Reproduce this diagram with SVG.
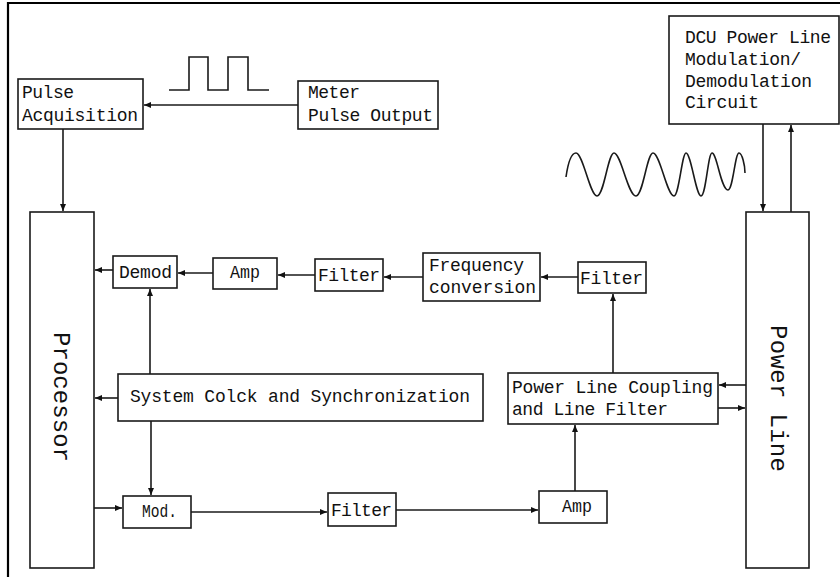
<svg xmlns="http://www.w3.org/2000/svg" width="840" height="577" viewBox="0 0 840 577">
<style>
.box{fill:#fff;stroke:#1a1a1a;stroke-width:1.6}
.ln{fill:none;stroke:#1a1a1a;stroke-width:1.6}
.t{font-family:"Liberation Mono","DejaVu Sans Mono",monospace;font-size:18px;fill:#111}
.big{font-family:"Liberation Mono","DejaVu Sans Mono",monospace;font-size:24px;fill:#111}
</style>
<defs>
<marker id="ah" markerUnits="userSpaceOnUse" markerWidth="8" markerHeight="8" refX="7" refY="4" orient="auto">
<path d="M0,1 L7,4 L0,7 Z" fill="#111"/>
</marker>
</defs>
<rect width="840" height="577" fill="#fff"/>
<g id="frame">
<path d="M8,577 V3 H840" fill="none" stroke="#000" stroke-width="2.2"/>
</g>
<g id="waves">
<path class="ln" d="M169,90 H189 V57 H208 V90 H228 V57 H248 V90 H269"/>
<path class="ln" d="M566,177 C568,163 571,153 576,153 C583,153 590,196 597,196 C604,196 608,153 614,153 C621,153 628,196 636,196 C643,196 647,153 653,153 C660,153 667,196 674,196 C679,196 682,153 686,153 C691,153 696,196 701,196 C706,196 708,153 712,153 C717,153 721,190 728,190 C733,190 735,153 739,153 C742,153 745,165 745,173"/>
</g>
<g id="connectors">
<path class="ln" d="M298,105 H144" marker-end="url(#ah)"/>
<path class="ln" d="M63,129 V211" marker-end="url(#ah)"/>
<path class="ln" d="M113,270 H95" marker-end="url(#ah)"/>
<path class="ln" d="M213,273 H178" marker-end="url(#ah)"/>
<path class="ln" d="M315,275 H278" marker-end="url(#ah)"/>
<path class="ln" d="M423,277 H384" marker-end="url(#ah)"/>
<path class="ln" d="M578,277 H541" marker-end="url(#ah)"/>
<path class="ln" d="M613,373 V294" marker-end="url(#ah)"/>
<path class="ln" d="M746,385 H719" marker-end="url(#ah)"/>
<path class="ln" d="M718,408 H745" marker-end="url(#ah)"/>
<path class="ln" d="M763,124 V211" marker-end="url(#ah)"/>
<path class="ln" d="M791,212 V125" marker-end="url(#ah)"/>
<path class="ln" d="M150,374 V289" marker-end="url(#ah)"/>
<path class="ln" d="M118,398 H95" marker-end="url(#ah)"/>
<path class="ln" d="M151,421 V495" marker-end="url(#ah)"/>
<path class="ln" d="M94,508 H122" marker-end="url(#ah)"/>
<path class="ln" d="M191,512 H327" marker-end="url(#ah)"/>
<path class="ln" d="M396,510 H538" marker-end="url(#ah)"/>
<path class="ln" d="M575,491 V425" marker-end="url(#ah)"/>
</g>
<g id="pulse-acq">
<rect class="box" x="18" y="79" width="125" height="50"/>
<text class="t" x="22" y="98" textLength="52" lengthAdjust="spacing">Pulse</text>
<text class="t" x="22" y="121" textLength="116" lengthAdjust="spacing">Acquisition</text>
</g>
<g id="meter">
<rect class="box" x="298" y="81" width="140" height="48"/>
<text class="t" x="308" y="98" textLength="52" lengthAdjust="spacing">Meter</text>
<text class="t" x="308" y="121" textLength="125" lengthAdjust="spacing">Pulse Output</text>
</g>
<g id="dcu">
<rect class="box" x="669" y="16" width="170" height="108"/>
<text class="t" x="685" y="43" textLength="146" lengthAdjust="spacing">DCU Power Line</text>
<text class="t" x="685" y="65" textLength="116" lengthAdjust="spacing">Modulation/</text>
<text class="t" x="685" y="87" textLength="127" lengthAdjust="spacing">Demodulation</text>
<text class="t" x="685" y="108" textLength="74" lengthAdjust="spacing">Circuit</text>
</g>
<g id="processor">
<rect class="box" x="30" y="212" width="64" height="356"/>
<text class="big" transform="translate(54,332) rotate(90)" textLength="130" lengthAdjust="spacing">Processor</text>
</g>
<g id="powerline">
<rect class="box" x="746" y="212" width="63" height="356"/>
<text class="big" transform="translate(771,325) rotate(90)" textLength="147" lengthAdjust="spacing">Power Line</text>
</g>
<g id="demod">
<rect class="box" x="113" y="256" width="64" height="32"/>
<text class="t" x="119" y="278" textLength="53" lengthAdjust="spacing">Demod</text>
</g>
<g id="amp-rx">
<rect class="box" x="213" y="258" width="64" height="31"/>
<text class="t" x="230" y="278" textLength="30" lengthAdjust="spacingAndGlyphs">Amp</text>
</g>
<g id="filter-rx1">
<rect class="box" x="315" y="259" width="68" height="32"/>
<text class="t" x="318" y="281" textLength="62" lengthAdjust="spacing">Filter</text>
</g>
<g id="freq">
<rect class="box" x="423" y="253" width="117" height="48"/>
<text class="t" x="429" y="271" textLength="95" lengthAdjust="spacing">Frequency</text>
<text class="t" x="429" y="293" textLength="107" lengthAdjust="spacing">conversion</text>
</g>
<g id="filter-rx2">
<rect class="box" x="578" y="262" width="68" height="31"/>
<text class="t" x="580" y="284" textLength="63" lengthAdjust="spacing">Filter</text>
</g>
<g id="coupling">
<rect class="box" x="508" y="373" width="210" height="51"/>
<text class="t" x="512" y="393" textLength="201" lengthAdjust="spacing">Power Line Coupling</text>
<text class="t" x="512" y="415" textLength="156" lengthAdjust="spacing">and Line Filter</text>
</g>
<g id="clock">
<rect class="box" x="118" y="374" width="365" height="47"/>
<text class="t" x="130" y="402" textLength="340" lengthAdjust="spacing">System Colck and Synchronization</text>
</g>
<g id="mod">
<rect class="box" x="123" y="496" width="68" height="32"/>
<text class="t" x="142" y="517" textLength="35" lengthAdjust="spacingAndGlyphs">Mod.</text>
</g>
<g id="filter-tx">
<rect class="box" x="328" y="493" width="68" height="33"/>
<text class="t" x="331" y="516" textLength="61" lengthAdjust="spacing">Filter</text>
</g>
<g id="amp-tx">
<rect class="box" x="539" y="491" width="68" height="32"/>
<text class="t" x="562" y="512" textLength="30" lengthAdjust="spacingAndGlyphs">Amp</text>
</g>
</svg>
